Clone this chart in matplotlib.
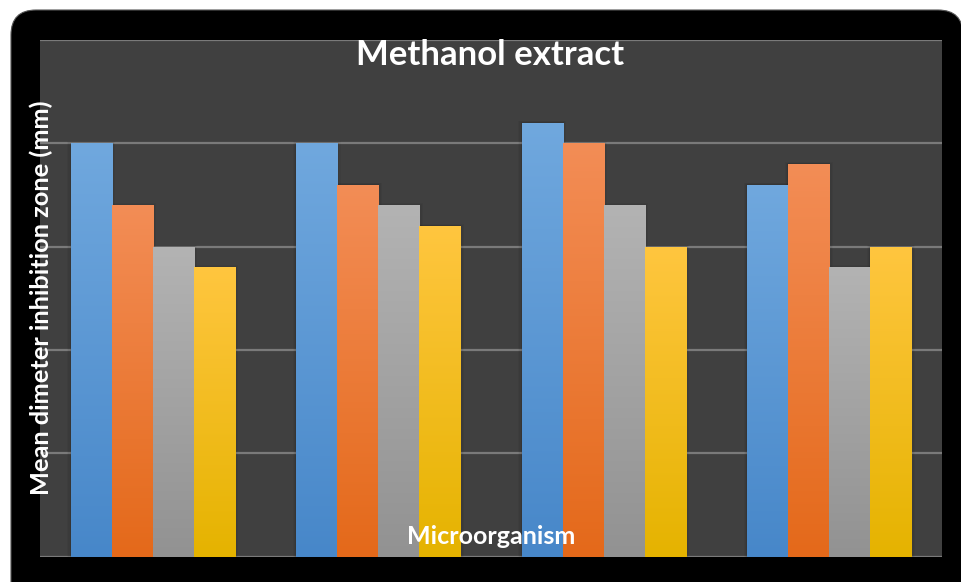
import numpy as np
import matplotlib
matplotlib.use("Agg")
import matplotlib.pyplot as plt
from matplotlib.patches import FancyBboxPatch, Rectangle
from matplotlib.colors import LinearSegmentedColormap

# ---- data ----
categories = ["Organism 1", "Organism 2", "Organism 3", "Organism 4"]
series_names = ["Series 1", "Series 2", "Series 3", "Series 4"]
series_values = [
    [20, 20, 21, 18],   # blue
    [17, 18, 20, 19],   # orange
    [15, 17, 17, 14],   # gray
    [14, 16, 15, 15],   # yellow
]
title = "Methanol extract"
ylabel = "Mean dimeter inhibition zone (mm)"
xlabel = "Microorganism"

# gradient colours (top, bottom)
grad_colors = [
    ("#70A8DE", "#4787C9"),
    ("#F38D56", "#E4691A"),
    ("#B3B3B3", "#929292"),
    ("#FFC63F", "#E5B300"),
]

W, H = 961, 582
fig = plt.figure(figsize=(W / 100, H / 100), dpi=100)
fig.patch.set_facecolor("white")

# background frame axes in pixel units
bg = fig.add_axes([0, 0, 1, 1])
bg.set_xlim(0, W)
bg.set_ylim(0, H)
bg.axis("off")
frame = FancyBboxPatch((11 + 25, -30 + 25), (W + 2) - 11 - 50, (H - 10) + 30 - 50,
                       boxstyle="round,pad=25", facecolor="black",
                       edgecolor="#555555", linewidth=0.8)
bg.add_patch(frame)

# main plot axes
left, right, top, bottom = 40, 942, 40, 556.5
ax = fig.add_axes([left / W, 1 - bottom / H, (right - left) / W, (bottom - top) / H])
ax.set_facecolor("#404040")
for s in ax.spines.values():
    s.set_visible(False)

n_series = len(series_values)
x = np.arange(len(categories))
bw = 0.182
ax.set_xlim(-0.5, len(categories) - 0.5)
ax.set_ylim(0, 25)
ax.set_yticks([0, 5, 10, 15, 20, 25])
ax.yaxis.grid(True, color="#7a7a7a", linewidth=1.6)
ax.set_axisbelow(True)
ax.tick_params(left=False, bottom=False, labelleft=False, labelbottom=False)
ax.set_xticks(x)
ax.set_xticklabels(categories)

grad = np.linspace(1, 0, 256).reshape(-1, 1)
for i, vals in enumerate(series_values):
    cmap = LinearSegmentedColormap.from_list("g%d" % i, [grad_colors[i][1], grad_colors[i][0]])
    offs = (i - (n_series - 1) / 2) * bw
    bars = ax.bar(x + offs, vals, width=bw, color="none", edgecolor="none",
                  label=series_names[i], zorder=3)
    for b in bars:
        x0, y0 = b.get_x(), b.get_y()
        w, h = b.get_width(), b.get_height()
        # soft shadow
        for k, a in enumerate([0.07, 0.05, 0.03]):
            sh = Rectangle((x0 - 0.005 * (k + 1), y0), w + 0.010 * (k + 1), h + 0.03 * (k + 1),
                           facecolor="black", alpha=a, edgecolor="none", zorder=2)
            ax.add_patch(sh)
        im = ax.imshow(grad, extent=[x0, x0 + w, y0, y0 + h], aspect="auto",
                       cmap=cmap, vmin=0, vmax=1, zorder=3, interpolation="bilinear")
        im.set_clip_path(b)
ax.set_xlim(-0.5, len(categories) - 0.5)
ax.set_ylim(0, 25)

fam = ["Lato", "DejaVu Sans"]
fig.text(490 / W, 1 - 55 / H, title, color="white", fontsize=25, fontweight="bold",
         ha="center", va="center", family=fam)
fig.text(41 / W, 1 - 298 / H, ylabel, color="white", fontsize=18.3, fontweight="bold",
         ha="center", va="center", rotation=90, family=fam)
fig.text(491 / W, 1 - 537 / H, xlabel, color="white", fontsize=18, fontweight="bold",
         ha="center", va="center", family=fam, zorder=10)

fig.savefig("out.png", dpi=100, facecolor=fig.get_facecolor())
